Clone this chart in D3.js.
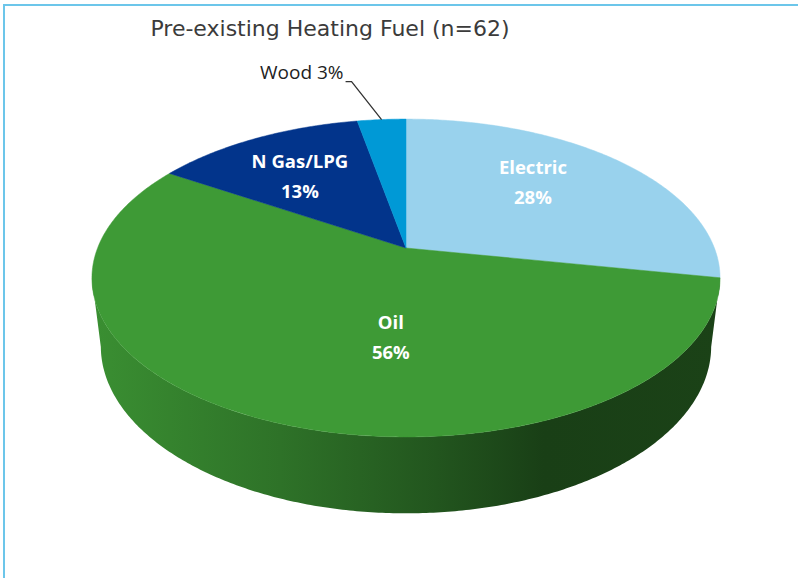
<!DOCTYPE html>
<html lang="en">
<head>
  <meta charset="UTF-8">
  <title>Pre-existing Heating Fuel</title>
  <script src="https://d3js.org/d3.v7.min.js"></script>
  <style>
    body {
      margin: 0;
      background: #fff;
    }
    svg {
      display: block;
    }
    .title {
      font-family: 'DejaVu Sans', sans-serif;
      font-size: 22px;
      fill: #3b3b3b;
    }
    .slice-label {
      font-family: 'Open Sans', 'Noto Sans', sans-serif;
      font-weight: bold;
      font-size: 18.5px;
      fill: #fff;
    }
    .outside-label {
      font-family: 'Open Sans', 'Noto Sans', sans-serif;
      font-size: 19px;
      fill: #222;
    }
  </style>
</head>
<body>

<svg width="798" height="578"></svg>

<script>
// chart data
const fuels = ["Electric", "Oil", "N Gas/LPG", "Wood"];
const shares = [28, 56, 13, 3];
const sampleSize = 62;

// styling per slice
const fuelColors = ["#99d2ed", "#3e9a36", "#02348b", "#0099d6"];
const labelInside = [true, true, true, false];
const labelNudge = [[-6, -19], [61, -15], [-11, -10], [0, 0]];

const svg = d3.select("svg");

// frame
svg.append("rect")
  .attr("x", 4).attr("y", 5)
  .attr("width", 820).attr("height", 600)
  .attr("fill", "none")
  .attr("stroke", "#6cc6ea")
  .attr("stroke-width", 2);

svg.append("text")
  .attr("class", "title")
  .attr("x", 330)
  .attr("y", 36)
  .attr("text-anchor", "middle")
  .text(`Pre-existing Heating Fuel (n=${sampleSize})`);

// 3d projection of a disc tilted toward the viewer
const cx = 406, cy = 248;
const R = 308.4;          // disc radius
const tilt = 29.8 * Math.PI / 180;
const dist = 1417;        // camera distance
const depth = 80;         // pie thickness
const sinA = Math.sin(tilt), cosA = Math.cos(tilt);

function project(theta, r, Y) {
  const x = r * Math.sin(theta);
  const z = -r * Math.cos(theta);
  const yc = Y * cosA - z * sinA;
  const zc = Y * sinA + z * cosA;
  const s = dist / (dist - zc);
  return [cx + x * s, cy - yc * s];
}

function arcPoints(a0, a1, r, Y) {
  const n = Math.max(2, Math.ceil(Math.abs(a1 - a0) / 0.01));
  return d3.range(n + 1).map(i => project(a0 + (a1 - a0) * i / n, r, Y));
}

const data = fuels.map((f, i) => ({ fuel: f, share: shares[i], color: fuelColors[i], i }));

const pie = d3.pie()
  .sort(null)
  .value(d => d.share);

const arcs = pie(data);
const line = d3.line();

// silhouette angles of the cylinder wall
const k = R * cosA / dist;
const visA = Math.acos(-k), visB = 2 * Math.PI - visA;

const left = project(-visA, R, 0)[0];
const right = project(visA, R, 0)[0];
const defs = svg.append("defs");

const g = svg.append("g");

// walls, shaded darker toward the right
arcs.forEach(a => {
  const s0 = Math.max(a.startAngle, visA);
  const s1 = Math.min(a.endAngle, visB);
  if (s1 <= s0) return;
  const top = arcPoints(s0, s1, R, 0);
  const bottom = arcPoints(s1, s0, R, -depth);
  const base = d3.color(a.data.color);
  const gid = "side-" + a.data.i;
  const gr = defs.append("linearGradient")
    .attr("id", gid)
    .attr("gradientUnits", "userSpaceOnUse")
    .attr("x1", left).attr("x2", right)
    .attr("y1", 0).attr("y2", 0);
  [[0, 0.93], [0.3, 0.74], [0.55, 0.55], [0.72, 0.41], [1, 0.43]].forEach(([o, f]) => {
    const c = d3.rgb(base.r * f, base.g * f, base.b * f);
    gr.append("stop").attr("offset", o).attr("stop-color", c.formatHex());
  });
  g.append("path")
    .attr("d", line(top.concat(bottom)) + "Z")
    .attr("fill", `url(#${gid})`);
});

// top faces
g.selectAll("path.top")
  .data(arcs)
  .join("path")
  .attr("class", "top")
  .attr("d", a => line([[cx, cy]].concat(arcPoints(a.startAngle, a.endAngle, R, 0))) + "Z")
  .attr("fill", a => a.data.color)
  .attr("stroke", a => a.data.color)
  .attr("stroke-width", 0.5);

// labels
arcs.forEach(a => {
  const i = a.data.i;
  const mid = (a.startAngle + a.endAngle) / 2;
  if (labelInside[i]) {
    const p = project(mid, R * 0.6, 0);
    const x = p[0] + labelNudge[i][0], y = p[1] + labelNudge[i][1];
    const t = g.append("text")
      .attr("class", "slice-label")
      .attr("text-anchor", "middle");
    t.append("tspan").attr("x", x).attr("y", y).text(a.data.fuel);
    t.append("tspan").attr("x", x).attr("y", y + 30).text(a.data.share + "%");
  } else {
    const rim = project(mid, R, 0);
    const elbow = [rim[0] - 30, rim[1] - 38];
    g.append("path")
      .attr("d", line([rim, elbow, [elbow[0] - 6, elbow[1]]]))
      .attr("fill", "none")
      .attr("stroke", "#333")
      .attr("stroke-width", 1.3);
    g.append("text")
      .attr("class", "outside-label")
      .attr("x", elbow[0] - 8)
      .attr("y", elbow[1] - 3)
      .attr("text-anchor", "end")
      .text(`${a.data.fuel} ${a.data.share}%`);
  }
});
</script>

</body>
</html>
